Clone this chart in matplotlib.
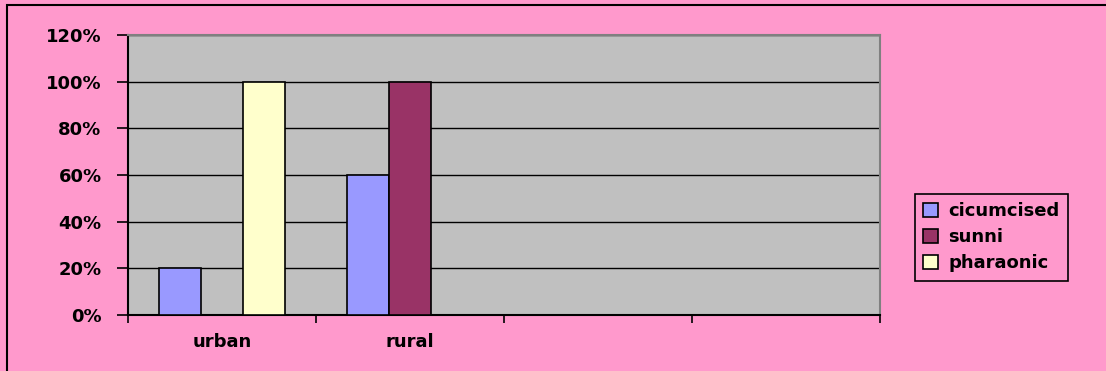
import matplotlib
matplotlib.use('Agg')
import matplotlib.pyplot as plt
from matplotlib.patches import Rectangle
from matplotlib.ticker import FuncFormatter
import numpy as np

categories = ['urban', 'rural', '', '']
series = ['cicumcised', 'sunni', 'pharaonic']
cicumcised = [0.20, 0.60, 0, 0]
sunni = [0, 1.00, 0, 0]
pharaonic = [1.00, 0, 0, 0]
colors = ['#9999FF', '#993366', '#FFFFCC']

plt.rcParams['font.family'] = 'DejaVu Sans'
plt.rcParams['font.weight'] = 'bold'

fig = plt.figure(figsize=(11.06, 3.71), dpi=100)
fig.patch.set_facecolor('#FF99CC')
ax = fig.add_axes([128/1106, 1-315/371, 752/1106, 280/371])
ax.set_facecolor('#C0C0C0')

x = np.arange(len(categories))
w = 1/4.5
for i, (vals, c, name) in enumerate(zip([cicumcised, sunni, pharaonic], colors, series)):
    h = np.array(vals, dtype=float)
    h[h == 0] = np.nan
    ax.bar(x + (i-1)*w, h, w, color=c, edgecolor='black', linewidth=1.2, label=name, zorder=3)

ax.set_xlim(-0.5, 3.5)
ax.set_ylim(0, 1.2)
ax.set_yticks(np.arange(0, 1.21, 0.2))
ax.yaxis.set_major_formatter(FuncFormatter(lambda v, p: f'{v*100:.0f}%'))
ax.yaxis.grid(True, color='black', linewidth=1, zorder=1)
ax.set_axisbelow(True)

ax.set_xticks(np.arange(-0.5, 3.6, 1))
ax.set_xticklabels([])
ax.set_xticks(x, minor=True)
ax.set_xticklabels(categories, minor=True)
ax.tick_params(axis='x', which='minor', length=0, pad=13, labelsize=13)
ax.tick_params(axis='x', which='major', length=6, width=1.2, direction='out')
ax.tick_params(axis='y', length=8, width=1.2, direction='out', labelsize=13, pad=11)

for s in ['left', 'bottom']:
    ax.spines[s].set_color('black')
    ax.spines[s].set_linewidth(1.5)
for s in ['top', 'right']:
    ax.spines[s].set_color('#808080')
    ax.spines[s].set_linewidth(1.5)

leg = ax.legend(loc='upper left', bbox_to_anchor=(915/1106, 1-194/371), bbox_transform=fig.transFigure,
                fancybox=False, frameon=True, facecolor='#FF99CC', edgecolor='black', framealpha=1,
                handlelength=0.8, handleheight=0.8, handletextpad=0.6, labelspacing=0.45,
                prop={'size': 13, 'weight': 'bold'}, borderpad=0.45, borderaxespad=0)
leg.get_frame().set_linewidth(1.2)

fig.patches.append(Rectangle((7/1106, -0.1), 1.2, 1.1 - 5/371, transform=fig.transFigure,
                             fill=False, edgecolor='black', linewidth=1.5))

fig.savefig('out.png', dpi=100, facecolor=fig.get_facecolor())
